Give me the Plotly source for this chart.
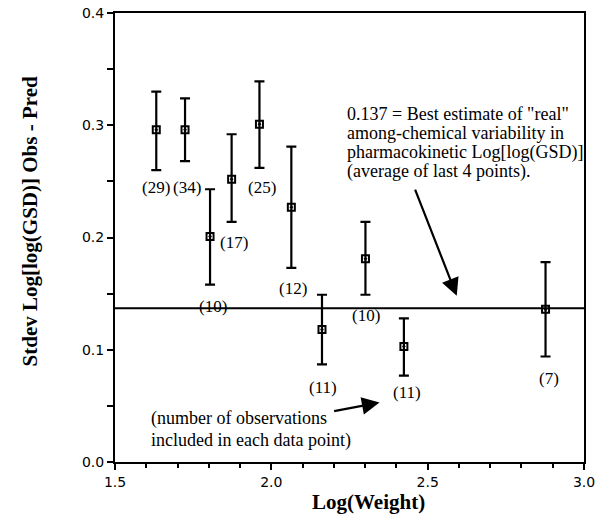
import plotly.graph_objects as go

# Binned data: mean log body weight, stdev of Log[log(GSD)] residuals, error bar limits
log_weight = [1.632, 1.724, 1.804, 1.873, 1.962, 2.064, 2.162, 2.301, 2.424, 2.877]
stdev_resid = [0.296, 0.296, 0.201, 0.252, 0.301, 0.227, 0.118, 0.181, 0.103, 0.136]
upper_limit = [0.330, 0.324, 0.243, 0.292, 0.339, 0.281, 0.149, 0.214, 0.128, 0.178]
lower_limit = [0.260, 0.268, 0.158, 0.214, 0.262, 0.173, 0.087, 0.149, 0.077, 0.094]
n_obs = [29, 34, 10, 17, 25, 12, 11, 10, 11, 7]

best_estimate = 0.137

x_ticks = [1.5, 2.0, 2.5, 3.0]
y_ticks = [0.0, 0.1, 0.2, 0.3, 0.4]

note_lines = [
    '0.137 = Best estimate of "real"',
    "among-chemical variability in",
    "pharmacokinetic Log[log(GSD)]",
    "(average of last 4 points).",
]
count_note_lines = [
    "(number of observations",
    "included in each data point)",
]

# pixel offsets of the count labels below each point centre
label_dx = [0, 2, 3, 2, 3, 2, 1, 1, 3, 3]
label_dy = [58, 58, 70, 63, 63, 81, 58, 57, 46, 69]

serif = "Liberation Serif"
sans = "DejaVu Sans"

err_plus = [u - m for u, m in zip(upper_limit, stdev_resid)]
err_minus = [m - l for m, l in zip(stdev_resid, lower_limit)]

fig = go.Figure()

fig.add_shape(type="line", xref="x", yref="y", x0=1.5, x1=3.0,
              y0=best_estimate, y1=best_estimate,
              line=dict(color="black", width=2))

fig.add_trace(go.Scatter(
    x=log_weight, y=stdev_resid, mode="markers",
    marker=dict(symbol="square-open-dot", size=7, color="black",
                line=dict(color="black", width=2)),
    error_y=dict(type="data", symmetric=False, array=err_plus,
                 arrayminus=err_minus, color="black", thickness=2.2, width=5),
    showlegend=False,
))

for x, y, n, dx, dy in zip(log_weight, stdev_resid, n_obs, label_dx, label_dy):
    fig.add_annotation(x=x, y=y, text=f"({n})", showarrow=False,
                       xanchor="center", yanchor="middle",
                       xshift=dx, yshift=-dy,
                       font=dict(family=serif, size=17, color="black"))

# explanatory note, one line per annotation for tight leading
for i, line in enumerate(note_lines):
    fig.add_annotation(x=2.234, y=0.310, yshift=-19 * i, xref="x", yref="y",
                       text=line, showarrow=False, xanchor="left",
                       yanchor="middle",
                       font=dict(family=serif, size=18, color="black"))

fig.add_annotation(
    x=2.593, y=0.148, ax=2.458, ay=0.244, xref="x", yref="y",
    axref="x", ayref="y", text="", showarrow=True,
    arrowhead=2, arrowsize=1.6, arrowwidth=2.2, arrowcolor="black")

for i, line in enumerate(count_note_lines):
    fig.add_annotation(x=1.609, y=0.039, yshift=-22 * i, xref="x", yref="y",
                       text=line, showarrow=False, xanchor="left",
                       yanchor="middle",
                       font=dict(family=serif, size=18, color="black"))

fig.add_annotation(
    x=2.346, y=0.053, ax=2.196, ay=0.045, xref="x", yref="y",
    axref="x", ayref="y", text="", showarrow=True,
    arrowhead=2, arrowsize=1.6, arrowwidth=2.2, arrowcolor="black")

fig.add_annotation(
    x=0.54, y=-0.088, xref="paper", yref="paper", text="<b>Log(Weight)</b>",
    showarrow=False, xanchor="center", yanchor="middle",
    font=dict(family=serif, size=21, color="black"))

fig.add_annotation(
    x=-0.182, y=0.535, xref="paper", yref="paper",
    text="<b>Stdev Log[log(GSD)] Obs - Pred</b>", textangle=-90,
    showarrow=False, xanchor="center", yanchor="middle",
    font=dict(family=serif, size=21, color="black"))

axis_common = dict(
    showline=True, linecolor="black", linewidth=2, mirror=True,
    ticks="outside", ticklen=6, tickwidth=1.5, tickcolor="black",
    showgrid=False, zeroline=False, automargin=False,
    tickfont=dict(family=sans, size=14, color="black"),
)

fig.update_xaxes(range=[1.5, 3.0], tickvals=x_ticks,
                 ticktext=[f"{v:.1f}" for v in x_ticks],
                 minor=dict(dtick=0.1, ticks="outside", ticklen=4,
                            tickwidth=1.5, tickcolor="black", showgrid=False),
                 **axis_common)
fig.update_yaxes(range=[0.0, 0.4], tickvals=y_ticks,
                 ticktext=[f"{v:.1f}" for v in y_ticks],
                 minor=dict(dtick=0.05, ticks="outside", ticklen=6,
                            tickwidth=1.5, tickcolor="black", showgrid=False),
                 **axis_common)

fig.update_layout(
    width=597, height=529,
    margin=dict(l=115, r=13, t=13, b=67),
    plot_bgcolor="white", paper_bgcolor="white",
)

fig.write_html("out.html")
